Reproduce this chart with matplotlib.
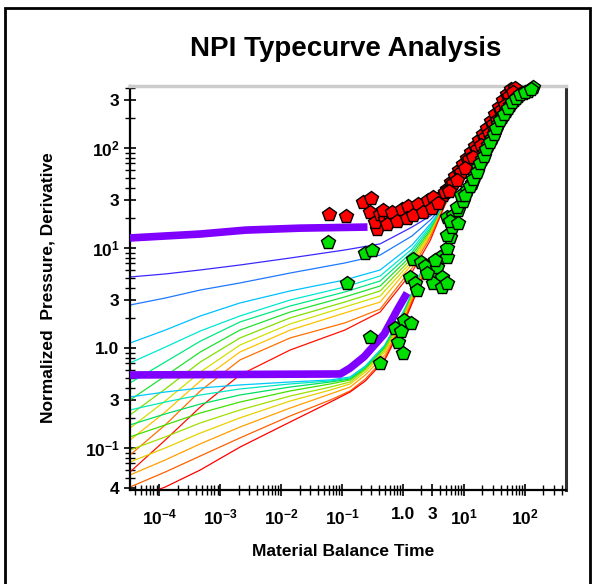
import numpy as np
import matplotlib
matplotlib.use("Agg")
import matplotlib.pyplot as plt
from matplotlib.ticker import FixedLocator, LogLocator, NullFormatter
from matplotlib.patches import Rectangle

plt.rcParams['font.family'] = ['Liberation Sans', 'DejaVu Sans']
plt.rcParams['mathtext.fontset'] = 'custom'
plt.rcParams['mathtext.rm'] = 'Liberation Sans'
plt.rcParams['mathtext.bf'] = 'Liberation Sans:bold'

# ---- typecurves, upper family (converge near t=5) ----
t_up = [3.3e-5, 1.25e-4, 4.7e-4, 2.1e-3, 0.014, 0.11, 0.42, 1.4, 2.8, 5.0]
up_curves = [
    [5.13, 5.50, 6.03, 6.76, 7.94, 9.55, 11.0, 16.2, 20.9, 28.2],
    [2.69, 3.16, 3.80, 4.47, 5.62, 7.08, 8.51, 13.2, 19.1, 28.2],
    [1.12, 1.51, 2.09, 2.82, 3.72, 4.79, 6.03, 10.7, 17.4, 28.2],
    [0.708, 1.02, 1.48, 2.09, 3.02, 4.07, 5.25, 9.77, 16.6, 28.2],
    [0.447, 0.724, 1.17, 1.82, 2.63, 3.63, 4.68, 9.12, 15.8, 28.2],
    [0.302, 0.525, 0.912, 1.51, 2.29, 3.24, 4.17, 8.51, 15.1, 28.2],
    [0.214, 0.389, 0.724, 1.26, 2.00, 2.88, 3.72, 7.94, 14.5, 28.2],
    [0.158, 0.295, 0.575, 1.07, 1.74, 2.57, 3.31, 7.41, 14.1, 28.2],
    [0.120, 0.229, 0.468, 0.912, 1.51, 2.24, 2.88, 6.92, 13.5, 28.2],
    [0.0851, 0.170, 0.372, 0.759, 1.26, 1.78, 2.45, 6.31, 12.9, 28.2],
    [0.0575, 0.120, 0.257, 0.537, 0.955, 1.51, 2.29, 5.75, 12.0, 28.2],
]
up_colors = ['#3c28ff', '#1e78ff', '#00c0ff', '#00e8d0', '#00e880', '#20e030',
             '#80e000', '#d0e000', '#ffc000', '#ff7000', '#ff1000']

# ---- typecurves, lower family (flatten at ~0.5) ----
t_lo = [3.3e-5, 1.25e-4, 4.7e-4, 2.1e-3, 0.014, 0.064, 0.135, 0.24, 0.5, 1.08, 2.3]
lo_curves = [
    [0.324, 0.363, 0.398, 0.427, 0.457, 0.479, 0.513, 0.661, 1.07, 2.51, 7.24],
    [0.240, 0.288, 0.339, 0.389, 0.437, 0.468, 0.501, 0.646, 1.05, 2.45, 7.08],
    [0.170, 0.219, 0.275, 0.339, 0.407, 0.457, 0.490, 0.631, 1.02, 2.40, 6.92],
    [0.129, 0.170, 0.224, 0.288, 0.372, 0.437, 0.479, 0.617, 1.00, 2.34, 6.76],
    [0.0955, 0.129, 0.178, 0.240, 0.331, 0.407, 0.457, 0.603, 0.955, 2.29, 6.61],
    [0.0724, 0.100, 0.141, 0.200, 0.295, 0.380, 0.437, 0.575, 0.912, 2.19, 6.46],
    [0.0537, 0.0759, 0.110, 0.162, 0.251, 0.347, 0.407, 0.537, 0.851, 2.09, 6.31],
    [0.0407, 0.0575, 0.0832, 0.126, 0.209, 0.302, 0.372, 0.490, 0.794, 2.00, 6.03],
    [0.0302, 0.0407, 0.0603, 0.102, 0.182, 0.288, 0.363, 0.468, 0.759, 1.91, 5.75],
]
lo_colors = ['#00c8ff', '#00e8c0', '#00e060', '#40e000', '#a0e000',
             '#e8d000', '#ffa000', '#ff6000', '#ff0000']

# ---- matched (thick purple) curves ----
t_match_up = [3.3e-5, 4.7e-4, 2.6e-3, 0.0205, 0.26]
y_match_up = [12.6, 13.8, 15.1, 15.8, 16.2]
t_match_lo = [3.3e-5, 0.093, 0.135, 0.23, 0.49, 0.8, 1.16]
y_match_lo = [0.537, 0.55, 0.63, 0.82, 1.38, 2.4, 3.55]

# ---- data points ----
t_red = [0.061, 0.116, 0.221, 0.299, 0.288, 0.375, 0.348, 0.42, 0.507, 0.612,
         0.74, 0.893, 1.08, 1.3, 1.57, 1.9, 2.3, 2.77, 3.35, 3.9, 4.5, 5.3,
         6.1, 7.1, 8.3, 9.6, 11.2, 13.0, 15.1, 17.6, 20.5, 23.8, 27.7, 32.2,
         37.5, 43.6, 50.7, 58.9, 68.5,
         0.47, 0.66, 0.96, 1.2, 1.76, 2.57, 3.1, 4.88, 6.6, 8.9, 12.1, 16.4,
         22.1, 29.9, 40.4, 54.6,
         0.55, 0.80, 1.15, 1.45, 2.1, 3.0, 3.7, 5.6, 7.6, 10.4, 14.0, 19.0,
         25.7, 34.8, 47.0, 63.0]
y_red = [21.9, 20.9, 28.8, 31.6, 22.9, 15.5, 18.2, 21.9, 19.5, 20.4,
         20.9, 21.9, 22.9, 23.4, 24.5, 25.7, 26.9, 28.2, 29.5, 31.6, 33.9, 38.9,
         45.7, 52.5, 60.3, 69.2, 79.4, 91.2, 105, 120, 138, 158, 186, 219,
         257, 302, 347, 389, 398,
         24.0, 22.9, 24.5, 26.3, 27.5, 30.2, 32.4, 36.3, 44.7, 57.5, 77.6, 97.7,
         129, 174, 240, 331,
         17.5, 18.6, 20.0, 21.4, 22.9, 25.1, 28.2, 37.2, 47.9, 63.1, 81.3, 107,
         141, 191, 269, 363]

t_green = [0.059, 0.238, 0.31, 0.121, 0.288, 0.42, 0.74, 1.04, 1.35, 0.83,
           1.0, 0.93, 1.46, 1.97, 2.3, 1.3, 1.57, 1.7, 3.0, 3.6, 4.36, 3.1,
           4.36, 2.47, 5.3, 4.0, 5.3, 3.35, 5.3, 5.9, 5.3, 6.35, 5.3, 6.6,
           5.9, 8.0, 8.0, 7.7, 9.6, 8.9, 11.2, 13.5, 15.1, 17, 19.7, 22.1,
           24.7, 28.8, 32.2, 36, 42, 48.9, 56.8, 66, 76.8, 92.7, 112, 135,
           10.3, 12.3, 14.2, 16, 18.3, 21, 23.3, 26.6, 30.4, 34, 39, 45, 52,
           61, 70, 84, 100, 124]
y_green = [11.5, 8.9, 9.5, 4.5, 1.29, 0.71, 1.58, 1.9, 1.78, 1.15,
           0.89, 1.48, 7.8, 7.2, 6.6, 5.1, 4.5, 3.8, 5.4, 6.5, 5.1, 4.5,
           4.1, 5.6, 4.5, 8.1, 8.1, 7.6, 10, 12.9, 13.5, 16.2, 20.4, 21.4,
           18.6, 17.8, 24, 25.7, 29.5, 33.9, 38, 44.7, 53.7, 64.6, 77.6, 91,
           107, 126, 148, 174, 204, 234, 269, 302, 331, 355, 372, 407,
           34, 42, 49, 58, 70, 84, 98, 116, 137, 160, 190, 218, 250,
           287, 318, 345, 365, 390]

# ---- ticks ----
x_ticks = [1e-4, 1e-3, 1e-2, 1e-1, 1, 3, 10, 100]
x_labels = [r'$\mathbf{10^{-4}}$', r'$\mathbf{10^{-3}}$', r'$\mathbf{10^{-2}}$',
            r'$\mathbf{10^{-1}}$', '1.0', '3', r'$\mathbf{10^{1}}$', r'$\mathbf{10^{2}}$']
y_ticks = [0.04, 0.1, 0.3, 1, 3, 10, 30, 100, 300]
y_labels = ['4', r'$\mathbf{10^{-1}}$', '3', '1.0', '3', r'$\mathbf{10^{1}}$', '3',
            r'$\mathbf{10^{2}}$', '3']

fig = plt.figure(figsize=(5.94, 5.84), dpi=100)
ax = fig.add_axes([130/594, 1-490/584, 436/594, 404/584])
ax.set_xscale('log')
ax.set_yscale('log')

for yv, c in zip(up_curves, up_colors):
    ax.plot(t_up, yv, color=c, lw=0.9, zorder=2)
for yv, c in zip(lo_curves, lo_colors):
    ax.plot(t_lo, yv, color=c, lw=0.9, zorder=2)

ax.plot(t_match_up, y_match_up, color='#7f00ff', lw=5.5, solid_capstyle='butt', zorder=3)
ax.plot(t_match_lo, y_match_lo, color='#7f00ff', lw=5.5, solid_capstyle='butt', zorder=3)

ax.plot(t_red, y_red, 'p', ms=10.5, mfc='#ff0000', mec='black', mew=1.0, zorder=4, clip_on=False)
ax.plot(t_green, y_green, 'p', ms=10.5, mfc='#00e000', mec='black', mew=1.0, zorder=5, clip_on=False)

ax.set_xlim(3.3e-5, 470)
ax.set_ylim(0.038, 417)

ax.xaxis.set_major_locator(FixedLocator(x_ticks))
ax.xaxis.set_ticklabels(x_labels)
ax.xaxis.set_minor_locator(LogLocator(base=10, subs=np.arange(2, 10), numticks=20))
ax.xaxis.set_minor_formatter(NullFormatter())
ax.yaxis.set_major_locator(FixedLocator(y_ticks))
ax.yaxis.set_ticklabels(y_labels)
ax.yaxis.set_minor_locator(LogLocator(base=10, subs=np.arange(2, 10), numticks=20))
ax.yaxis.set_minor_formatter(NullFormatter())

ax.tick_params(which='major', direction='inout', length=9, width=1.2, labelsize=12.5)
ax.tick_params(which='minor', direction='inout', length=7, width=1.0)
ax.tick_params(axis='x', which='major', pad=8)
ax.tick_params(axis='y', which='major', pad=3)
for lab in ax.get_xticklabels() + ax.get_yticklabels():
    lab.set_fontweight('bold')

ax.spines['left'].set_linewidth(1.6)
ax.spines['bottom'].set_linewidth(1.6)
ax.spines['right'].set_linewidth(2.2)
ax.spines['right'].set_color('#303030')
ax.spines['top'].set_linewidth(2.5)
ax.spines['top'].set_color('#cccccc')

fig.text(346/594, 1-49/584, 'NPI Typecurve Analysis', ha='center', va='center',
         fontsize=20, fontweight='bold')
fig.text(48/594, 1-288/584, 'Normalized  Pressure, Derivative', ha='center', va='center',
         rotation=90, fontsize=12.5, fontweight='bold')
fig.text(343/594, 1-551/584, 'Material Balance Time', ha='center', va='center',
         fontsize=12.5, fontweight='bold')

fig.patches.append(Rectangle((5/594, -0.02), 585/594, 1-8/584+0.02, transform=fig.transFigure,
                             fill=False, edgecolor='black', lw=2))

fig.savefig('out.png', dpi=100)
